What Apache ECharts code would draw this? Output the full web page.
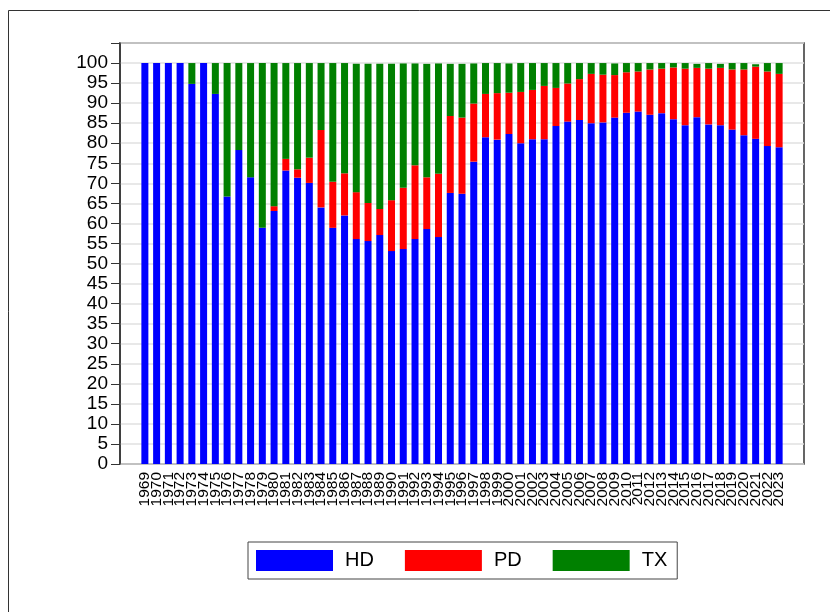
<!DOCTYPE html>
<html>
<head>
<meta charset="utf-8">
<script src="https://cdn.jsdelivr.net/npm/echarts@6/dist/echarts.min.js"></script>
<style>
html, body { margin: 0; padding: 0; background: #fff; }
#container { width: 830px; height: 612px; }
</style>
</head>
<body>
<div id="container"></div>
<script>
var years = [];
for (var y = 1969; y <= 2023; y++) years.push(String(y));

var hd = [100, 100, 100, 100, 94.8, 100, 92.3, 66.7, 78.3, 71.5,
          58.9, 63.1, 73.2, 71.4, 70.1, 64.0, 58.9, 62.0, 56.1, 55.6,
          57.1, 53.1, 53.6, 56.1, 58.6, 56.6, 67.6, 67.4, 75.4, 81.5,
          80.9, 82.3, 80.0, 81.0, 81.0, 84.3, 85.4, 85.8, 85.0, 85.2,
          86.4, 87.6, 87.9, 87.1, 87.5, 86.0, 84.5, 86.5, 84.7, 84.5,
          83.4, 82.0, 81.1, 79.3, 79.0];
var pd = [0, 0, 0, 0, 0, 0, 0, 0, 0, 0,
          0, 1.2, 2.9, 2.1, 6.3, 19.3, 11.5, 10.5, 11.7, 9.5,
          6.5, 12.7, 15.3, 18.4, 12.9, 15.8, 19.2, 19.0, 14.5, 10.8,
          11.6, 10.3, 12.8, 12.3, 13.3, 9.5, 9.5, 10.2, 12.3, 11.9,
          10.6, 10.1, 10.0, 11.3, 11.1, 12.9, 14.1, 12.3, 13.9, 14.3,
          15.0, 16.4, 18.0, 18.6, 18.3];
var tx = [0, 0, 0, 0, 5.2, 0, 7.7, 33.3, 21.7, 28.5,
          41.1, 35.7, 23.9, 26.5, 23.6, 16.7, 29.6, 27.5, 32.0, 34.7,
          36.2, 34.0, 31.0, 25.4, 28.3, 27.5, 13.0, 13.4, 10.0, 7.7,
          7.5, 7.3, 7.2, 6.7, 5.7, 6.2, 5.1, 4.0, 2.7, 2.9,
          2.9, 2.3, 2.1, 1.6, 1.4, 1.1, 1.4, 1.0, 1.4, 1.0,
          1.6, 1.6, 0.6, 2.1, 2.7];

var dom = document.getElementById("container");
var myChart = echarts.init(dom);
var font = 'Liberation Sans, Arial, sans-serif';

var option = {
    animation: false,
    textStyle: { fontFamily: font },
    graphic: [{
        type: 'rect',
        shape: { x: 8.5, y: 10.5, width: 900, height: 700 },
        style: { fill: 'none', stroke: '#333', lineWidth: 1 },
        silent: true
    }],
    legend: {
        top: 542,
        left: 248,
        data: ['HD', 'PD', 'TX'],
        itemWidth: 77,
        itemHeight: 21,
        itemGap: 31,
        borderColor: '#444',
        borderWidth: 1,
        borderRadius: 0,
        padding: [8, 10, 8, 8],
        icon: 'rect',
        textStyle: { fontSize: 20, color: '#000', padding: [0, 0, 0, 7] }
    },
    grid: [
        { left: 120, right: 26, top: 43, bottom: 148, show: true,
          borderColor: '#333', borderWidth: 1.5, backgroundColor: 'transparent' },
        { left: 139, right: 45, top: 43, bottom: 148 }
    ],
    xAxis: [
        { gridIndex: 0, type: 'value', show: false },
        { gridIndex: 1, type: 'category', data: years,
          axisLine: { show: false }, axisTick: { show: false },
          axisLabel: { rotate: 90, interval: 0, fontSize: 15.5, color: '#000', margin: 8 } }
    ],
    yAxis: [
        { gridIndex: 0, type: 'value', min: 0, max: 105, interval: 5,
          axisLine: { show: true, lineStyle: { color: '#333', width: 1.5 } },
          axisTick: { show: true, length: 9, lineStyle: { color: '#333' } },
          axisLabel: { fontSize: 19, color: '#000', margin: 12,
                       formatter: function (v) { return v > 100 ? '' : v; } },
          splitLine: { show: true, lineStyle: { color: '#e0e0e0', width: 1.5 } } },
        { gridIndex: 1, type: 'value', min: 0, max: 105, show: false,
          splitLine: { show: false } }
    ],
    series: [
        { name: 'HD', type: 'bar', stack: 'a', xAxisIndex: 1, yAxisIndex: 1,
          data: hd, barWidth: 7, itemStyle: { color: '#0000ff' } },
        { name: 'PD', type: 'bar', stack: 'a', xAxisIndex: 1, yAxisIndex: 1,
          data: pd, barWidth: 7, itemStyle: { color: '#ff0000' } },
        { name: 'TX', type: 'bar', stack: 'a', xAxisIndex: 1, yAxisIndex: 1,
          data: tx, barWidth: 7, itemStyle: { color: '#008000' } }
    ]
};

if (option && typeof option === "object") {
    myChart.setOption(option, true);
}
</script>
</body>
</html>
